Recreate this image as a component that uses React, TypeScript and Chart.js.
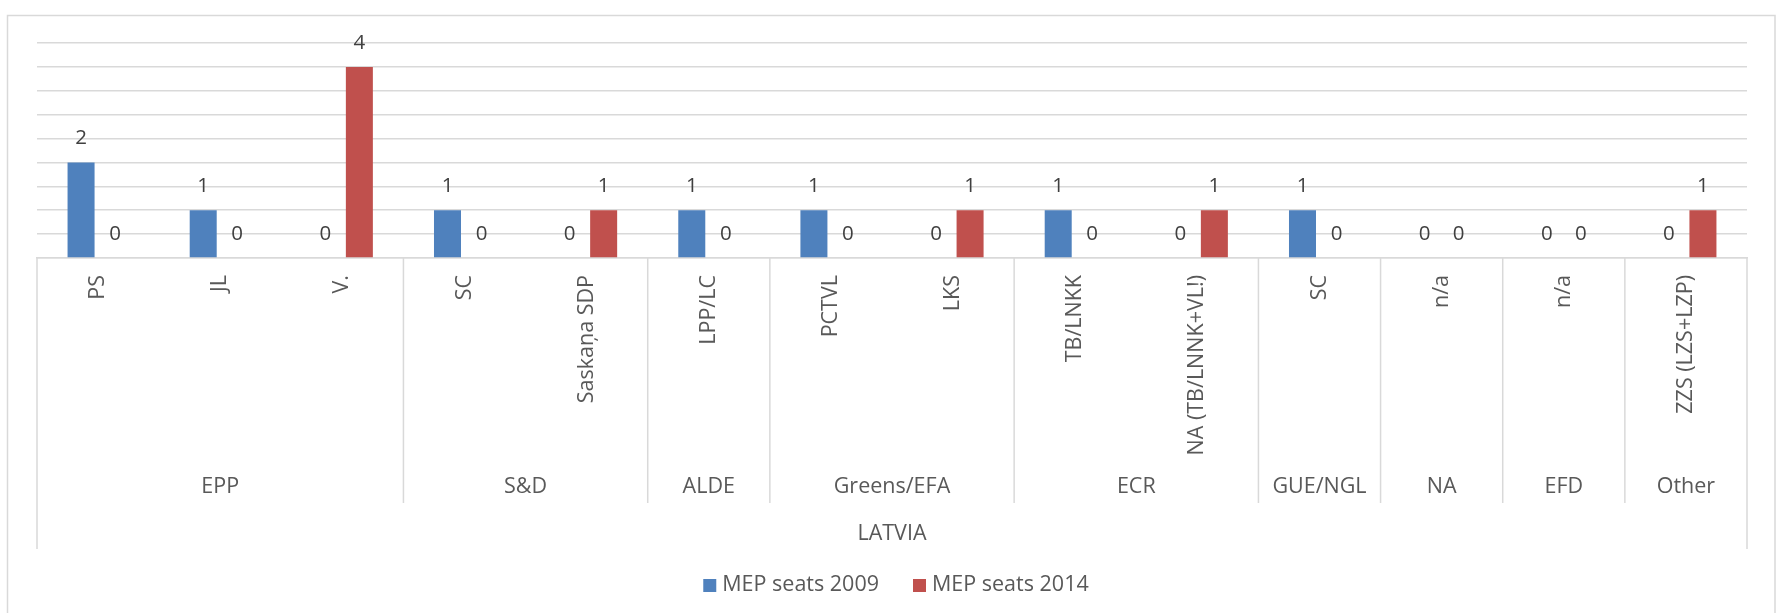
import React, { useEffect, useRef } from "react";
import { Chart, registerables } from "chart.js";

Chart.register(...registerables);

const parties = [
  "PS",
  "JL",
  "V.",
  "SC",
  "Saskaņa SDP",
  "LPP/LC",
  "PCTVL",
  "LKS",
  "TB/LNKK",
  "NA (TB/LNNK+VL!)",
  "SC",
  "n/a",
  "n/a",
  "ZZS (LZS+LZP)",
];
const seats2009 = [2, 1, 0, 1, 0, 1, 1, 0, 1, 0, 1, 0, 0, 0];
const seats2014 = [0, 0, 4, 0, 1, 0, 0, 1, 0, 1, 0, 0, 0, 1];
const groupNames = ["EPP", "S&D", "ALDE", "Greens/EFA", "ECR", "GUE/NGL", "NA", "EFD", "Other"];
const groupSizes = [3, 2, 1, 2, 2, 1, 1, 1, 1];
const countryName = "LATVIA";
const seriesNames = ["MEP seats 2009", "MEP seats 2014"];
const seriesColors = ["#4F81BD", "#C0504D"];
const yMax = 4.5;
const yStep = 0.5;

const FONT = '"Open Sans", "DejaVu Sans", sans-serif';
const LINE = "#d9d9d9";
const TEXT = "#595959";
const LABEL = "#404040";
const TEXT_SIZE = 21.5;

const customPlugin = {
  id: "excelLook",
  beforeDraw(chart: any) {
    const ctx = chart.ctx;
    ctx.save();
    ctx.fillStyle = "#ffffff";
    ctx.fillRect(0, 0, chart.width, chart.height);
    ctx.strokeStyle = LINE;
    ctx.lineWidth = 1.5;
    ctx.strokeRect(7.5, 15.5, 1767.5, 640);
    ctx.restore();
  },
  afterDatasetsDraw(chart: any) {
    const ctx = chart.ctx;
    ctx.save();
    ctx.font = `20.5px ${FONT}`;
    ctx.fillStyle = LABEL;
    ctx.textAlign = "center";
    ctx.textBaseline = "middle";
    chart.data.datasets.forEach((ds: any, di: number) => {
      const meta = chart.getDatasetMeta(di);
      meta.data.forEach((el: any, i: number) => {
        const p = el.getProps(["x", "y"], true);
        ctx.fillText(String(ds.data[i]), p.x, p.y - 24);
      });
    });
    ctx.restore();
  },
  afterDraw(chart: any) {
    const ctx = chart.ctx;
    const xs = chart.scales.x;
    const axisY = chart.chartArea.bottom;
    ctx.save();
    ctx.strokeStyle = LINE;
    ctx.lineWidth = 1.5;
    const bounds: number[] = [-0.5];
    let idx = 0;
    groupSizes.forEach((s) => {
      idx += s;
      bounds.push(idx - 0.5);
    });
    bounds.forEach((b, k) => {
      const px = xs.getPixelForValue(b);
      const outer = k === 0 || k === bounds.length - 1;
      ctx.beginPath();
      ctx.moveTo(px, axisY);
      ctx.lineTo(px, outer ? 549 : 503);
      ctx.stroke();
    });
    ctx.font = `${TEXT_SIZE}px ${FONT}`;
    ctx.fillStyle = TEXT;
    ctx.textAlign = "center";
    ctx.textBaseline = "middle";
    groupNames.forEach((g, k) => {
      const a = xs.getPixelForValue(bounds[k]);
      const b = xs.getPixelForValue(bounds[k + 1]);
      ctx.fillText(g, (a + b) / 2, 487);
    });
    const left = xs.getPixelForValue(bounds[0]);
    const right = xs.getPixelForValue(bounds[bounds.length - 1]);
    const center = (left + right) / 2;
    ctx.fillText(countryName, center, 534);

    const sq = 13;
    const gapText = 6;
    const gapItem = 34;
    const widths = seriesNames.map((n) => ctx.measureText(n).width);
    const total = widths.reduce((acc, w) => acc + sq + gapText + w, 0) + gapItem * (seriesNames.length - 1);
    let x = center + 4 - total / 2;
    ctx.textAlign = "left";
    seriesNames.forEach((n, i) => {
      ctx.fillStyle = seriesColors[i];
      ctx.fillRect(x, 579, sq, sq);
      x += sq + gapText;
      ctx.fillStyle = TEXT;
      ctx.fillText(n, x, 585);
      x += widths[i] + gapItem;
    });
    ctx.restore();
  },
};

export default function App() {
  const ref = useRef<HTMLCanvasElement | null>(null);
  useEffect(() => {
    if (!ref.current) return;
    const chart = new Chart(ref.current, {
      type: "bar",
      data: {
        labels: parties,
        datasets: [
          {
            label: seriesNames[0],
            data: seats2009,
            backgroundColor: seriesColors[0],
            categoryPercentage: 0.557,
            barPercentage: 0.794,
          },
          {
            label: seriesNames[1],
            data: seats2014,
            backgroundColor: seriesColors[1],
            categoryPercentage: 0.557,
            barPercentage: 0.794,
          },
        ],
      },
      options: {
        responsive: false,
        devicePixelRatio: 1,
        animation: false,
        layout: { padding: { left: 37, right: 29, top: 43, bottom: 0 } },
        plugins: {
          legend: { display: false },
          tooltip: { enabled: false },
        },
        scales: {
          x: {
            grid: { display: false, drawTicks: false },
            border: { display: true, color: LINE, width: 1.5 },
            ticks: {
              autoSkip: false,
              minRotation: 90,
              maxRotation: 90,
              padding: 17,
              color: TEXT,
              font: { family: FONT, size: TEXT_SIZE },
            },
            afterFit: (s: any) => {
              s.height = 613 - 258;
            },
          },
          y: {
            min: 0,
            max: yMax,
            ticks: { display: false, stepSize: yStep },
            grid: { color: LINE, lineWidth: 1.5, drawTicks: false },
            border: { display: false },
            afterFit: (s: any) => {
              s.width = 0;
            },
          },
        },
      },
      plugins: [customPlugin],
    });
    return () => chart.destroy();
  }, []);
  return (
    <div style={{ position: "absolute", left: 0, top: 0, width: 1776, height: 613, background: "#fff" }}>
      <canvas ref={ref} width={1776} height={613} style={{ display: "block" }} />
    </div>
  );
}
